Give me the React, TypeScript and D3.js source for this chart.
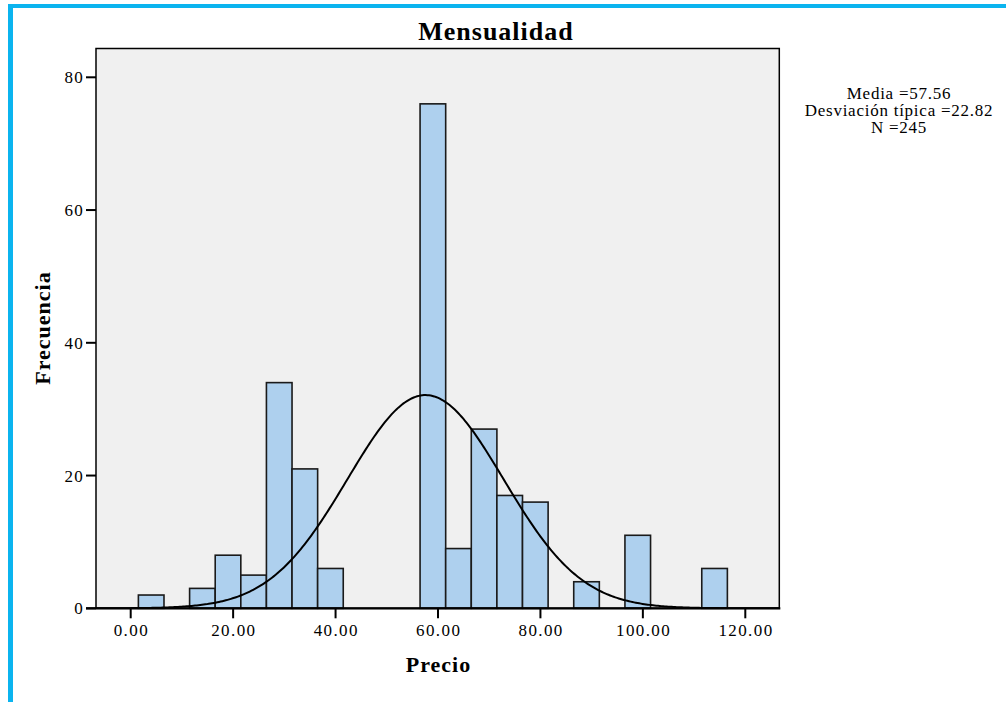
import React from "react";
import * as d3 from "d3";

// Histogram bins for "Mensualidad" (bin width 5)
const binStarts = [1.5, 11.5, 16.5, 21.5, 26.5, 31.5, 36.5, 56.5, 61.5, 66.5, 71.5, 76.5, 86.5, 96.5, 111.5];
const binCounts = [2, 3, 8, 5, 34, 21, 6, 76, 9, 27, 17, 16, 4, 11, 6];
const BIN_WIDTH = 5;

const xTicks = [0, 20, 40, 60, 80, 100, 120];
const yTicks = [0, 20, 40, 60, 80];

const MEAN = 57.56;
const SD = 22.82;
const N = 245;
// the normal curve is laid out on a 7.5-unit grid and mapped onto the 5-unit bins
const CURVE_BIN = 7.5;

const statLines = [
  `Media =${MEAN.toFixed(2)}`,
  `Desviación típica =${SD.toFixed(2)}`,
  `N =${N}`,
];

const W = 1006;
const H = 702;
const plot = { left: 96, top: 48.5, right: 779.3, bottom: 608.3 };

export default function App() {
  const x = d3
    .scaleLinear()
    .domain([0, 120])
    .range([130.7, 745.3]);
  const y = d3
    .scaleLinear()
    .domain([0, 80])
    .range([plot.bottom, 77.3]);

  const xMin = x.invert(plot.left);
  const xMax = x.invert(plot.right);

  const peak = (N * CURVE_BIN) / (SD * Math.sqrt(2 * Math.PI));
  const spread = (SD * BIN_WIDTH) / CURVE_BIN;
  const samples = d3.range(0, 401).map((i) => xMin + ((xMax - xMin) * i) / 400);
  const curve = d3
    .line<number>()
    .x((v) => x(v))
    .y((v) => y(peak * Math.exp(-0.5 * ((v - MEAN) / spread) ** 2)))
    .curve(d3.curveLinear);

  const serif = "'Liberation Serif', 'Times New Roman', serif";

  return (
    <svg
      width={W}
      height={H}
      style={{ position: "absolute", left: 0, top: 0, background: "#ffffff" }}
      fontFamily={serif}
    >
      {/* frame edges */}
      <rect x={8} y={4} width={W - 8} height={4} fill="#0bb4ef" />
      <rect x={8} y={4} width={5} height={H - 4} fill="#0bb4ef" />

      <text x={496} y={40} textAnchor="middle" fontSize={26} fontWeight="bold" letterSpacing={1} fill="#000">
        Mensualidad
      </text>

      <defs>
        <clipPath id="plotClip">
          <rect
            x={plot.left}
            y={plot.top}
            width={plot.right - plot.left}
            height={plot.bottom - plot.top}
          />
        </clipPath>
      </defs>

      <rect
        x={plot.left}
        y={plot.top}
        width={plot.right - plot.left}
        height={plot.bottom - plot.top}
        fill="#f0f0f0"
      />

      {binStarts.map((s, i) => (
        <rect
          key={i}
          x={x(s)}
          y={y(binCounts[i])}
          width={x(s + BIN_WIDTH) - x(s)}
          height={y(0) - y(binCounts[i])}
          fill="#aed0ee"
          stroke="#1a1a1a"
          strokeWidth={1.6}
        />
      ))}

      <path
        d={curve(samples) || ""}
        fill="none"
        stroke="#000"
        strokeWidth={2}
        clipPath="url(#plotClip)"
      />

      <rect
        x={plot.left}
        y={plot.top}
        width={plot.right - plot.left}
        height={plot.bottom - plot.top}
        fill="none"
        stroke="#000"
        strokeWidth={1.5}
      />
      <line x1={86} x2={plot.right + 1} y1={plot.bottom} y2={plot.bottom} stroke="#000" strokeWidth={2.2} />

      {yTicks.map((t) => (
        <g key={t}>
          <line x1={86} x2={plot.left} y1={y(t)} y2={y(t)} stroke="#000" strokeWidth={2} />
          <text
            x={84}
            y={y(t) + 6}
            textAnchor="end"
            fontSize={17}
            letterSpacing={1.2}
            fill="#000"
          >
            {t}
          </text>
        </g>
      ))}

      {xTicks.map((t) => (
        <g key={t}>
          <line x1={x(t)} x2={x(t)} y1={plot.bottom} y2={plot.bottom + 10} stroke="#000" strokeWidth={2} />
          <text
            x={x(t) + 0.7}
            y={636}
            textAnchor="middle"
            fontSize={17}
            letterSpacing={1.4}
            fill="#000"
          >
            {t.toFixed(2)}
          </text>
        </g>
      ))}

      <text x={438.5} y={672} textAnchor="middle" fontSize={22} fontWeight="bold" letterSpacing={1} fill="#000">
        Precio
      </text>
      <text
        transform={`translate(50, 328) rotate(-90)`}
        textAnchor="middle"
        fontSize={22}
        fontWeight="bold"
        letterSpacing={1}
        fill="#000"
      >
        Frecuencia
      </text>

      {statLines.map((s, i) => (
        <text
          key={i}
          x={899}
          y={98.5 + i * 17.2}
          textAnchor="middle"
          fontSize={17}
          letterSpacing={0.75}
          fill="#000"
        >
          {s}
        </text>
      ))}
    </svg>
  );
}
